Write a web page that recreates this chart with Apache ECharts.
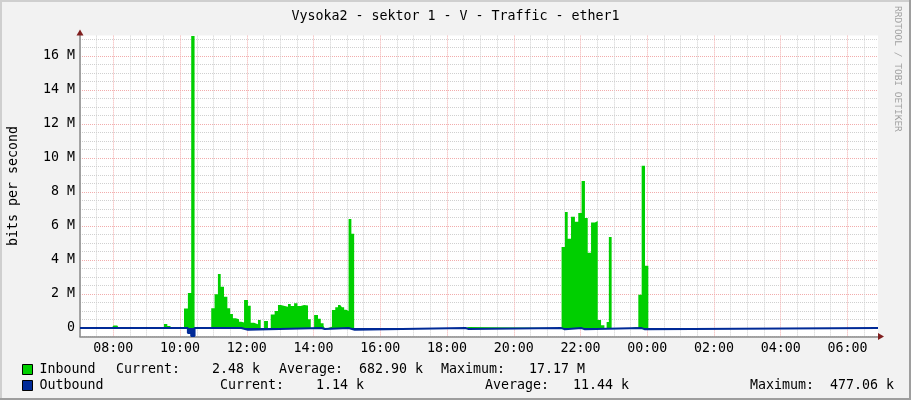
<!DOCTYPE html>
<html>
<head>
<meta charset="utf-8">
<script src="https://cdn.jsdelivr.net/npm/echarts@6/dist/echarts.min.js"></script>
<style>
html,body{margin:0;padding:0;background:#F2F2F2;}
#c{width:911px;height:400px;}
</style>
</head>
<body>
<div id="c"></div>
<script>
// ---- data (Mbit/s), step segments: value holds from its time to the next time ----
const inTimes = ['07:00','07:57','08:00','08:07','08:10','09:31','09:37','09:42','09:45',
  '10:07','10:14','10:20','10:26','10:34','10:50','10:56','11:02','11:08','11:13','11:19',
  '11:25','11:30','11:35','11:40','11:46','11:50','11:55','12:02','12:07','12:13','12:20',
  '12:25','12:31','12:38','12:43','12:50','12:56','13:01','13:14','13:19','13:25','13:31',
  '13:37','13:43','13:50','13:55','14:01','14:08','14:13','14:18','14:20','14:26','14:33',
  '14:39','14:44','14:48','14:51','14:55','14:59','15:03','15:08','15:13','18:33','18:39',
  '21:26','21:32','21:37','21:43','21:50','21:56','22:02','22:08','22:13','22:19','22:26',
  '22:31','22:37','22:43','22:47','22:51','22:56','23:32','23:40','23:44','23:50','23:56',
  '00:02','06:55'];
const inbound = [0,0.06,0.14,0.08,0,0.24,0.12,0.05,0,
  1.14,2.06,17.17,0.05,0,0.03,1.16,1.98,3.17,2.43,1.84,
  1.16,0.82,0.57,0.51,0.37,0.33,1.65,1.31,0.31,0.22,0.47,
  0,0.41,0,0.80,1.0,1.36,1.25,1.41,1.29,1.45,1.29,
  1.35,1.33,0.51,0,0.77,0.55,0.28,0.12,0,0.07,1.06,
  1.22,1.35,1.41,1.22,1.08,1.0,6.41,5.55,0,0.06,0,
  4.77,6.83,5.25,6.54,6.25,6.77,8.64,6.47,4.43,6.20,6.29,
  0.47,0.16,0,0.35,5.36,0,0.05,0,1.96,9.55,3.66,
  0,0];
const outTimes = ['07:00','10:14','10:20','10:26','11:50','12:02','14:14','14:20','15:03','15:14',
  '18:33','18:39','21:26','21:32','22:02','22:08','23:50','23:56','06:55'];
const outbound = [0.005,0.30,0.477,0.005,0.10,0.005,0.06,0.005,0.10,0.005,
  0.06,0.005,0.08,0.005,0.08,0.005,0.08,0.005,0.005];
const xTickLabels = ['08:00','10:00','12:00','14:00','16:00','18:00','20:00','22:00','00:00','02:00','04:00','06:00'];
const yTickLabels = ['0','2 M','4 M','6 M','8 M','10 M','12 M','14 M','16 M'];
const title = 'Vysoka2 - sektor 1 - V - Traffic - ether1';

// ---- helpers ----
function toMin(t){ const p=t.split(':'); let m=(+p[0])*60+(+p[1])-420; if(m<0) m+=1440; return m; }
const inData = inTimes.map((t,i)=>[toMin(t), inbound[i]]);
const outData = outTimes.map((t,i)=>[toMin(t), -outbound[i]]);

const FONT = 'DejaVu Sans Mono';
const FS = 13.3;
const FONTCSS = FS+'px "'+FONT+'"';
const G = '#D0D0D0', R = '#F2ACAC';

const legendBase = {
  orient:'horizontal', left:17, itemWidth:10, itemHeight:10, icon:'rect', selectedMode:false,
  itemStyle:{borderColor:'#000', borderWidth:1},
  textStyle:{fontFamily:FONT, fontSize:FS, color:'#000', padding:[0,0,0,2]}
};

const chart = echarts.init(document.getElementById('c'), null, {renderer:'canvas'});
chart.setOption({
  animation:false,
  backgroundColor:'#F2F2F2',
  title:{text:title, left:'center', top:5, textStyle:{fontFamily:FONT, fontSize:FS, fontWeight:'normal', color:'#000'}},
  legend:[
    Object.assign({}, legendBase, {top:358, data:['Inbound']}),
    Object.assign({}, legendBase, {top:374, data:['Outbound']})
  ],
  grid:{left:80, right:33, top:35.6, bottom:63.5, containLabel:false, outerBoundsMode:'none',
        show:true, backgroundColor:'#FFFFFF', borderWidth:0},
  xAxis:[{
    type:'value', min:0, max:1435, interval:30,
    axisLine:{show:true, onZero:false, lineStyle:{color:'#8a8a8a', width:1.5}},
    axisTick:{show:false},
    axisLabel:{margin:6, fontFamily:FONT, fontSize:FS, color:'#000',
      formatter:function(v){ if((v-60)%120===0){ return xTickLabels[(v-60)/120]||''; } return ''; }},
    splitLine:{show:true, showMaxLine:false, lineStyle:{color:[G,G,R,G], type:[1,1], width:1}}
  },{
    type:'value', min:0, max:1435, position:'bottom',
    axisLine:{show:true, onZero:false, symbol:['none','triangle'], symbolSize:[7,6], symbolOffset:[0,3],
      lineStyle:{color:'#801F1F', width:0}},
    axisTick:{show:false}, axisLabel:{show:false}, splitLine:{show:false}
  }],
  yAxis:[{
    type:'value', min:-0.5, max:17.2, interval:0.5,
    name:'bits per second', nameLocation:'middle', nameGap:60,
    nameTextStyle:{fontFamily:FONT, fontSize:FS, color:'#000'},
    axisLine:{show:true, onZero:false, lineStyle:{color:'#8a8a8a', width:1.5}},
    axisTick:{show:false},
    axisLabel:{margin:5, fontFamily:FONT, fontSize:FS, color:'#000',
      formatter:function(v){ if(v>=0 && Math.abs(v%2)<1e-9){ return yTickLabels[Math.round(v/2)]||''; } return ''; }},
    splitLine:{show:true, showMaxLine:false, lineStyle:{color:[G,R,G,G], type:[1,1], width:1}}
  },{
    type:'value', min:-0.5, max:17.2, position:'left',
    axisLine:{show:true, onZero:false, symbol:['none','triangle'], symbolSize:[7,6], symbolOffset:[0,3],
      lineStyle:{color:'#801F1F', width:0}},
    axisTick:{show:false}, axisLabel:{show:false}, splitLine:{show:false}
  }],
  series:[{
    name:'Inbound', type:'line', step:'end', data:inData, symbol:'none', showSymbol:false,
    lineStyle:{width:0}, itemStyle:{color:'#00CF00'},
    areaStyle:{color:'#00CF00', opacity:1}, z:2
  },{
    name:'Outbound', type:'line', step:'end', data:outData, symbol:'none', showSymbol:false,
    lineStyle:{width:2, color:'#002A97'}, itemStyle:{color:'#002A97'},
    areaStyle:{color:'#002A97', opacity:1}, z:3
  }],
  graphic:[
    {type:'text', left:116, top:363, style:{text:'Current:    2.48 k', font:FONTCSS, fill:'#000'}},
    {type:'text', left:279, top:363, style:{text:'Average:  682.90 k', font:FONTCSS, fill:'#000'}},
    {type:'text', left:441, top:363, style:{text:'Maximum:   17.17 M', font:FONTCSS, fill:'#000'}},
    {type:'text', left:220, top:379, style:{text:'Current:    1.14 k', font:FONTCSS, fill:'#000'}},
    {type:'text', left:485, top:379, style:{text:'Average:   11.44 k', font:FONTCSS, fill:'#000'}},
    {type:'text', left:750, top:379, style:{text:'Maximum:  477.06 k', font:FONTCSS, fill:'#000'}},
    {type:'text', x:902, y:6, rotation:-Math.PI/2,
      style:{text:'RRDTOOL / TOBI OETIKER', font:'9.5px "'+FONT+'"', fill:'#A0A0A0', textAlign:'left', textVerticalAlign:'top'}},
    {type:'rect', shape:{x:0,y:0,width:911,height:2}, style:{fill:'#CFCFCF'}, silent:true},
    {type:'rect', shape:{x:0,y:0,width:2,height:400}, style:{fill:'#CFCFCF'}, silent:true},
    {type:'rect', shape:{x:0,y:398,width:911,height:2}, style:{fill:'#9E9E9E'}, silent:true},
    {type:'rect', shape:{x:909,y:0,width:2,height:400}, style:{fill:'#9E9E9E'}, silent:true}
  ]
});
</script>
</body>
</html>
